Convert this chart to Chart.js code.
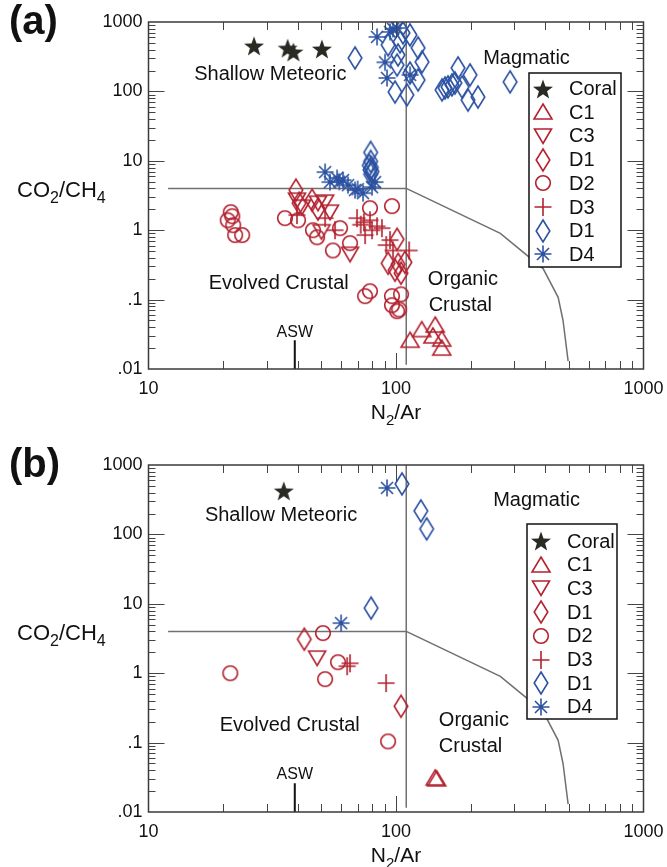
<!DOCTYPE html>
<html>
<head>
<meta charset="utf-8">
<script src="https://cdn.jsdelivr.net/npm/chart.js@4.4.1/dist/chart.umd.min.js"></script>
<style>
  body { margin: 0; background: #fff; }
  #wrap { position: relative; width: 667px; height: 867px; }
  #wrap canvas { position: absolute; left: 0; }
</style>
</head>
<body>
<div id="wrap">
  <canvas id="chartA" width="667" height="443" style="top:0"></canvas>
  <canvas id="chartB" width="667" height="424" style="top:443px"></canvas>
</div>
<script>
// axes
const xTicks = [10, 100, 1000];
const xTickLabels = ['10', '100', '1000'];
const yTicks = [0.01, 0.1, 1, 10, 100, 1000];
const yTickLabels = ['.01', '.1', '1', '10', '100', '1000'];
const seriesNames = ['Coral', 'C1', 'C3', 'D1', 'D2', 'D3', 'D1', 'D4'];

// field boundaries (N2/Ar, CO2/CH4)
const shallowLine = [[12, 4], [110, 4]];
const magmaticLine = [[110, 0.0115], [110, 1000]];
const organicLine = [[110, 4], [264, 0.9], [393, 0.28], [452, 0.108], [473, 0.05], [496, 0.013]];
const aswLine = [[39, 0.01], [39, 0.026]];

// panel (a)
const coralA = [[26.7, 452], [36.5, 420], [38.5, 370], [50.2, 409]];
const c1A = [[114, 0.026], [127, 0.037], [144, 0.043], [141, 0.030], [153, 0.027], [153, 0.020]];
const c3A = [[39.8, 2.71], [41.7, 2.15], [48.4, 2.45], [51.7, 2.54], [54.1, 1.82], [65.2, 0.45], [50, 0.95]];
const d1RedA = [[39.4, 3.78], [40.6, 2.45], [45.8, 2.71], [48.4, 2.01], [101, 0.74], [92.9, 0.334],
  [102, 0.323], [108.7, 0.345], [99.1, 0.265], [104.8, 0.24]];
const d2A = [[21.5, 1.82], [20.9, 1.39], [21.8, 1.59], [22, 1.18], [22.4, 0.85], [23.9, 0.85],
  [35.6, 1.49], [40.2, 1.39], [46.2, 1.0], [48, 0.79], [55.6, 0.51], [59.4, 1.07], [65.2, 0.65],
  [78.5, 2.08], [96.3, 2.22], [78.5, 0.132], [75, 0.112], [96.3, 0.112], [104.8, 0.119],
  [96.3, 0.083], [101, 0.068], [103, 0.072]];
const d3A = [[39.8, 1.65], [51.7, 1.49], [56.7, 1.0], [69.6, 1.49], [74.2, 1.3], [78.5, 1.39],
  [83.8, 1.14], [87.7, 1.07], [75, 0.85], [94.6, 0.72], [97.3, 0.51], [113, 0.51], [91.3, 0.61],
  [72, 1.2], [80, 1.0]];
const d1BlueA = [[68.3, 303], [92.9, 468], [101.9, 335], [103.8, 516], [106.7, 697], [113.9, 652],
  [122.8, 423], [127.4, 266], [122.8, 146], [99.1, 98], [110.7, 89], [101, 240], [113.9, 184],
  [178.1, 218], [199.1, 173], [153.5, 105], [157.8, 112], [162.2, 116], [168.3, 124], [173, 132],
  [184.9, 116], [195.5, 75], [214.4, 83], [289, 137],
  [79, 13.2], [79, 9.8], [78, 8.6], [79.5, 8.0], [78.5, 7.4], [80, 7.0], [79, 6.4]];
const d4A = [[83.8, 610], [94.6, 720], [97.3, 795], [101, 820], [90.3, 263], [92, 156], [114, 173],
  [51.7, 6.87], [54.1, 4.93], [57.8, 5.63], [61.1, 5.27], [64, 4.46], [68.3, 3.78], [73.6, 3.42],
  [80, 4.17], [82.3, 4.93], [59, 5.0], [70, 3.9]];

// panel (b)
const coralB = [[35.2, 423]];
const c1B = [[144, 0.031], [146, 0.030]];
const c3B = [[48, 1.65]];
const d1RedB = [[42.6, 3.09], [104.8, 0.334]];
const d2B = [[50.7, 3.78], [21.4, 1.0], [58.3, 1.44], [51.7, 0.82], [92.9, 0.104]];
const d3B = [[63.5, 1.26], [65.2, 1.39], [91.2, 0.72]];
const d1BlueB = [[105.7, 534], [126, 218], [133, 120], [79.3, 8.67]];
const d4B = [[92, 468], [60, 5.27]];

const FONT = '"Liberation Sans", Arial, Helvetica, sans-serif';
const RED = '#b3222f';
const BLUE = '#2c52a2';
const DARK = '#2a2a25';
const GRAY = '#707070';

// marker pictures, used by the chart and by the legend
function symbol(kind, color) {
  const c = document.createElement('canvas');
  c.width = 26; c.height = 26;
  const g = c.getContext('2d');
  g.translate(13, 13);
  g.strokeStyle = color;
  g.fillStyle = color;
  g.lineWidth = 1.6;
  g.beginPath();
  if (kind === 'star') {
    for (let i = 0; i < 10; i++) {
      const r = i % 2 ? 4.3 : 10.5;
      const a = -Math.PI / 2 + i * Math.PI / 5;
      g.lineTo(r * Math.cos(a), r * Math.sin(a) + 1);
    }
    g.closePath();
    g.fill();
    return c;
  }
  if (kind === 'up') {
    g.moveTo(0, -8); g.lineTo(9, 7); g.lineTo(-9, 7); g.closePath();
  } else if (kind === 'down') {
    g.moveTo(0, 7.5); g.lineTo(8.5, -7); g.lineTo(-8.5, -7); g.closePath();
  } else if (kind === 'diamond') {
    g.moveTo(0, -11); g.lineTo(6.8, 0); g.lineTo(0, 11); g.lineTo(-6.8, 0); g.closePath();
  } else if (kind === 'circle') {
    g.arc(0, 0, 7.3, 0, Math.PI * 2);
  } else if (kind === 'plus') {
    g.moveTo(-8.5, 0); g.lineTo(8.5, 0); g.moveTo(0, -9); g.lineTo(0, 9);
  } else if (kind === 'aster') {
    for (let k = 0; k < 4; k++) {
      const a = k * Math.PI / 4;
      g.moveTo(-8.5 * Math.cos(a), -8.5 * Math.sin(a));
      g.lineTo(8.5 * Math.cos(a), 8.5 * Math.sin(a));
    }
  }
  g.stroke();
  return c;
}

const styles = [
  symbol('star', DARK), symbol('up', RED), symbol('down', RED), symbol('diamond', RED),
  symbol('circle', RED), symbol('plus', RED), symbol('diamond', BLUE), symbol('aster', BLUE)
];

const toPts = arr => arr.map(p => ({ x: p[0], y: p[1] }));

function lineSet(pts, color, width) {
  return { data: toPts(pts), showLine: true, borderColor: color, borderWidth: width,
    pointRadius: 0, fill: false, order: 10, inLegend: false };
}

function buildDatasets(series) {
  const sets = series.map((s, i) => ({
    label: seriesNames[i], data: toPts(s), pointStyle: styles[i], pointRadius: 10,
    showLine: false, inLegend: true
  }));
  sets.push(lineSet(shallowLine, GRAY, 1.5));
  sets.push(lineSet(magmaticLine, GRAY, 1.5));
  sets.push(lineSet(organicLine, GRAY, 1.5));
  sets.push(lineSet(aswLine, '#111', 2));
  return sets;
}

function drawParts(ctx, parts, x, y, size, subSize) {
  parts.forEach(([t, sub]) => {
    ctx.font = (sub ? subSize : size) + 'px ' + FONT;
    ctx.fillText(t, x, sub ? y + 6 : y);
    x += ctx.measureText(t).width;
  });
}
function partsWidth(ctx, parts, size, subSize) {
  let w = 0;
  parts.forEach(([t, sub]) => {
    ctx.font = (sub ? subSize : size) + 'px ' + FONT;
    w += ctx.measureText(t).width;
  });
  return w;
}

// frame, inward log ticks, field names, axis titles and boxed legend
function panelPlugin(panel) {
  return {
    id: 'panel' + panel.tag,
    afterDraw(chart) {
      const { ctx, chartArea: a, scales: { x, y } } = chart;
      ctx.save();
      ctx.strokeStyle = '#444';
      ctx.lineWidth = 1;
      ctx.beginPath();
      for (let e = 1; e < 3; e++) {
        for (let k = 1; k < 10; k++) {
          const px = Math.round(x.getPixelForValue(k * Math.pow(10, e))) + 0.5;
          const len = k === 1 ? 16 : 8;
          if (k === 1 && e === 1) continue;
          ctx.moveTo(px, a.bottom); ctx.lineTo(px, a.bottom - len);
          ctx.moveTo(px, a.top); ctx.lineTo(px, a.top + len);
        }
      }
      for (let e = -2; e < 3; e++) {
        for (let k = 1; k < 10; k++) {
          if (k === 1 && e === -2) continue;
          const py = Math.round(y.getPixelForValue(k * Math.pow(10, e))) + 0.5;
          const len = k === 1 ? 16 : 7;
          ctx.moveTo(a.left, py); ctx.lineTo(a.left + len, py);
          ctx.moveTo(a.right, py); ctx.lineTo(a.right - len, py);
        }
      }
      ctx.stroke();
      ctx.lineWidth = 1.5;
      ctx.strokeStyle = '#3a3a3a';
      ctx.strokeRect(a.left, a.top, a.right - a.left, a.bottom - a.top);

      // field names
      ctx.fillStyle = '#111';
      ctx.textBaseline = 'alphabetic';
      ctx.font = '20px ' + FONT;
      panel.notes.forEach(n => {
        ctx.textAlign = 'left';
        ctx.fillText(n.text, x.getPixelForValue(n.at[0]), y.getPixelForValue(n.at[1]));
      });
      ctx.font = '16px ' + FONT;
      ctx.textAlign = 'center';
      ctx.fillText('ASW', x.getPixelForValue(panel.asw[0]), y.getPixelForValue(panel.asw[1]));

      // titles
      ctx.textAlign = 'left';
      const yt = [['CO', false], ['2', true], ['/CH', false], ['4', true]];
      drawParts(ctx, yt, 17, 197, 22, 16);
      const xt = [['N', false], ['2', true], ['/Ar', false]];
      const w = partsWidth(ctx, xt, 21, 15);
      drawParts(ctx, xt, (a.left + a.right) / 2 - w / 2, 419, 21, 15);
      ctx.font = 'bold 40px ' + FONT;
      ctx.fillText(panel.tag, 9, 34);

      // legend
      const L = panel.legend;
      const items = chart.data.datasets.filter(d => d.inLegend);
      ctx.fillStyle = '#fff';
      ctx.fillRect(L.left, L.top, L.w, L.h);
      ctx.strokeStyle = '#111';
      ctx.lineWidth = 1.5;
      ctx.strokeRect(L.left, L.top, L.w, L.h);
      ctx.fillStyle = '#111';
      ctx.font = '20px ' + FONT;
      ctx.textBaseline = 'middle';
      items.forEach((d, i) => {
        const cy = L.top + L.first + i * L.step;
        const img = d.pointStyle;
        ctx.drawImage(img, L.left + 14 - img.width / 2, Math.round(cy - img.height / 2));
        ctx.fillText(d.label, L.left + 40, cy + 1);
      });
      ctx.restore();
    }
  };
}

function makeChart(id, height, series, panel) {
  return new Chart(document.getElementById(id), {
    type: 'scatter',
    data: { datasets: buildDatasets(series) },
    options: {
      responsive: false,
      animation: false,
      events: [],
      devicePixelRatio: 1,
      layout: { padding: { top: 22, right: 23.5, left: 0, bottom: 0 } },
      plugins: { legend: { display: false }, tooltip: { enabled: false } },
      scales: {
        x: {
          type: 'logarithmic', min: 10, max: 1000,
          grid: { display: false, drawTicks: false }, border: { display: false },
          afterBuildTicks: s => { s.ticks = xTicks.map(v => ({ value: v })); },
          afterFit: s => { s.height = height - 369; s.paddingLeft = 0; s.paddingRight = 0; },
          ticks: {
            padding: 9, color: '#111', font: { size: 18, family: FONT },
            maxRotation: 0, autoSkip: false,
            callback: v => xTickLabels[xTicks.indexOf(v)]
          }
        },
        y: {
          type: 'logarithmic', min: 0.01, max: 1000,
          grid: { display: false, drawTicks: false }, border: { display: false },
          afterBuildTicks: s => { s.ticks = yTicks.map(v => ({ value: v })); },
          afterFit: s => { s.width = 148.5; s.paddingTop = 0; s.paddingBottom = 0; },
          ticks: {
            padding: 6, color: '#111', font: { size: 18, family: FONT }, autoSkip: false,
            callback: v => yTickLabels[yTicks.indexOf(v)]
          }
        }
      }
    },
    plugins: [panelPlugin(panel)]
  });
}

makeChart('chartA', 443, [coralA, c1A, c3A, d1RedA, d2A, d3A, d1BlueA, d4A], {
  tag: '(a)',
  notes: [
    { text: 'Shallow Meteoric', at: [15.3, 146] },
    { text: 'Magmatic', at: [225, 248] },
    { text: 'Evolved Crustal', at: [17.5, 0.141] },
    { text: 'Organic', at: [134.5, 0.161] },
    { text: 'Crustal', at: [135.5, 0.0678] }
  ],
  asw: [39, 0.0286],
  legend: { left: 529, top: 73, w: 92, h: 194, first: 15.5, step: 23.7 }
});

makeChart('chartB', 424, [coralB, c1B, c3B, d1RedB, d2B, d3B, d1BlueB, d4B], {
  tag: '(b)',
  notes: [
    { text: 'Shallow Meteoric', at: [16.9, 156] },
    { text: 'Magmatic', at: [247, 257] },
    { text: 'Evolved Crustal', at: [19.4, 0.146] },
    { text: 'Organic', at: [149, 0.172] },
    { text: 'Crustal', at: [149, 0.0724] }
  ],
  asw: [39, 0.0295],
  legend: { left: 527, top: 81, w: 90, h: 195, first: 17, step: 23.7 }
});
</script>
</body>
</html>
